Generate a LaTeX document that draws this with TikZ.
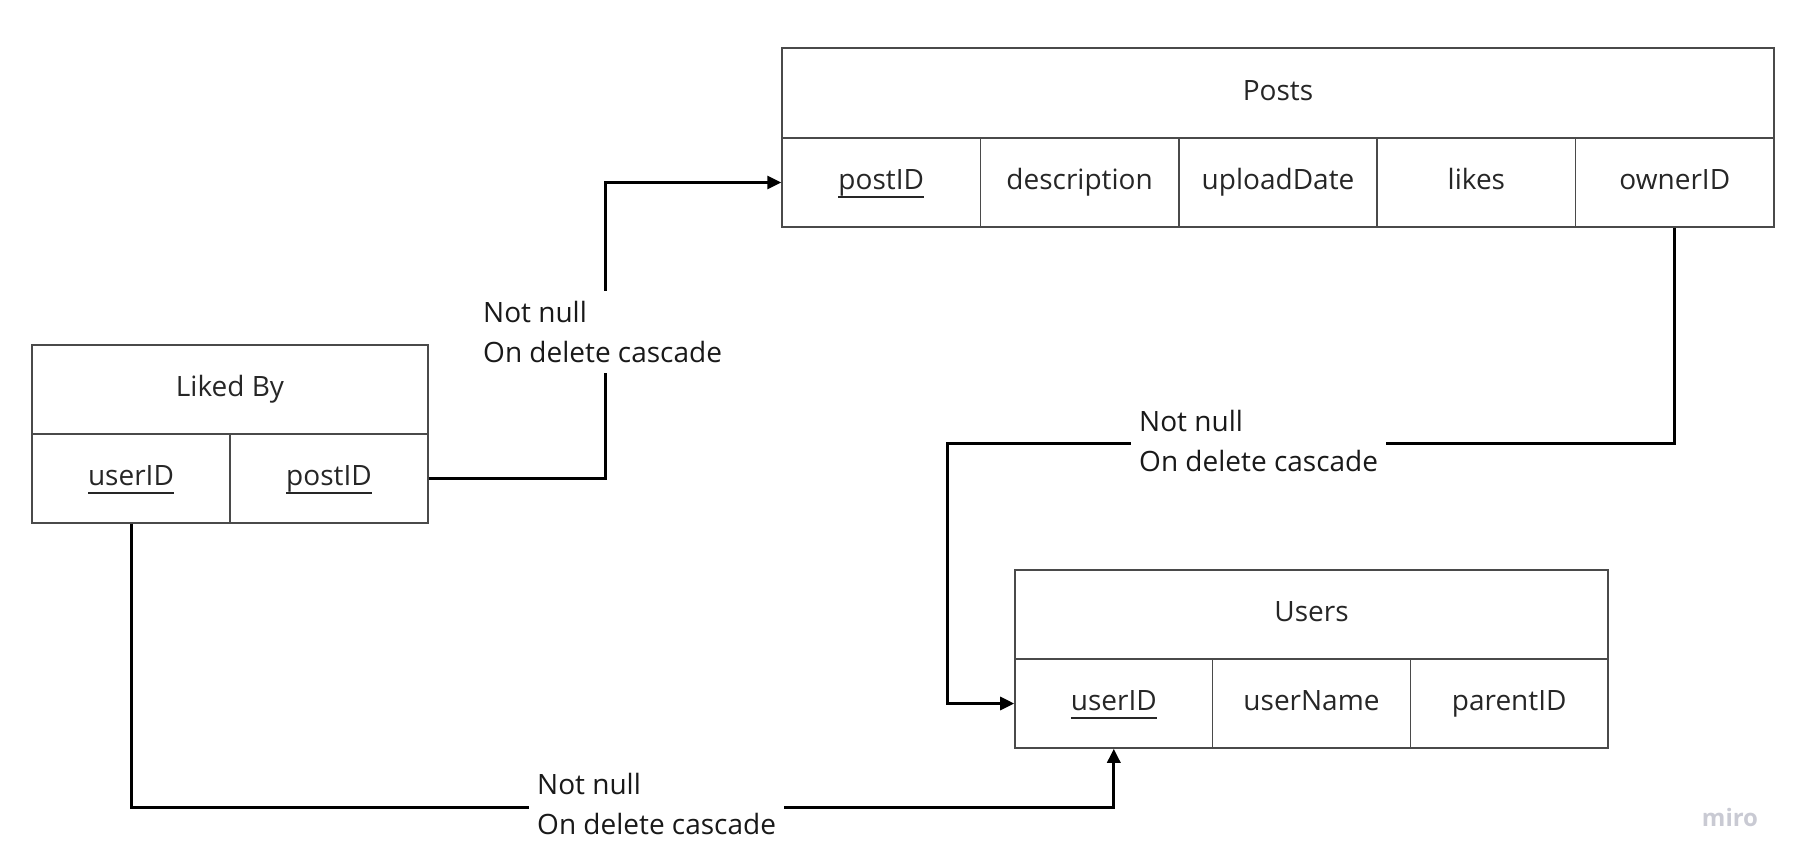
\documentclass[tikz,border=0pt]{standalone}
\usepackage{fontspec}
\setmainfont{Open Sans}
\usetikzlibrary{positioning,arrows.meta,calc}
\definecolor{cellBorder}{HTML}{4A4A4A}
\definecolor{miroGray}{HTML}{C9CAD3}
\newcommand{\keyname}[1]{\leavevmode\vtop{\setbox0\hbox{#1}\dp0=0pt\box0\kern6pt\hrule height 2.6pt depth 0pt}}

\begin{document}
\begin{tikzpicture}[x=1pt, y=-1pt, >={Triangle[length=14pt,width=13pt]},
    font=\fontsize{28}{40}\selectfont,
    cell/.style={draw=cellBorder, line width=1.5pt, minimum width=198.4pt, minimum height=89pt, inner sep=0pt,
      text height=21pt, text depth=7pt, text=black!85},
    fk/.style={line width=3pt, ->},
    rule/.style={fill=white, align=left, anchor=west, inner xsep=8pt, inner ysep=10pt, text=black!90}]
  \useasboundingbox (0,0) rectangle (1800,867);
  % Posts: one header over five fields
  \node[cell, minimum width=992pt, minimum height=90pt] (posts) at (1278,93) {Posts};
  \foreach \i/\name/\txt in {0/ppost/\keyname{postID}, 1/pdesc/description, 2/pdate/uploadDate, 3/plikes/likes, 4/pown/ownerID} {
    \node[cell] (\name) at (881.2+198.4*\i,182.5) {\txt};
  }
  % Liked By
  \node[cell, minimum width=396pt] (liked) at (230,389.5) {Liked By};
  \node[cell, minimum width=198pt] (luser) at (131,478.5) {\keyname{userID}};
  \node[cell, minimum width=198pt] (lpost) at (329,478.5) {\keyname{postID}};
  % Users
  \node[cell, minimum width=593pt] (users) at (1311.5,614.5) {Users};
  \foreach \i/\name/\txt in {0/uuser/\keyname{userID}, 1/uname/userName, 2/uparent/parentID} {
    \node[cell, minimum width=197.7pt] (\name) at (1113.8+197.7*\i,703.5) {\txt};
  }
  % foreign keys
  \coordinate (bend1) at (605,182.5);
  \coordinate (bend2) at (947,443);
  \coordinate (bend3) at (600,807);
  \draw[fk] (lpost.east) -| (bend1) -- (ppost.west);
  \draw[fk] (pown.south) |- (bend2) |- (uuser.west);
  \draw[fk] (luser.south) |- (bend3) -| (uuser.south);
  \node[rule] (rule1) at (475,332) {Not null\\On delete cascade};
  \node[rule] (rule2) at (1131,441) {Not null\\On delete cascade};
  \node[rule] (rule3) at (529,804) {Not null\\On delete cascade};
  \node[text=miroGray, font=\fontsize{24}{24}\selectfont\bfseries] (miro) at (1730,817) {miro};
\end{tikzpicture}
\end{document}
